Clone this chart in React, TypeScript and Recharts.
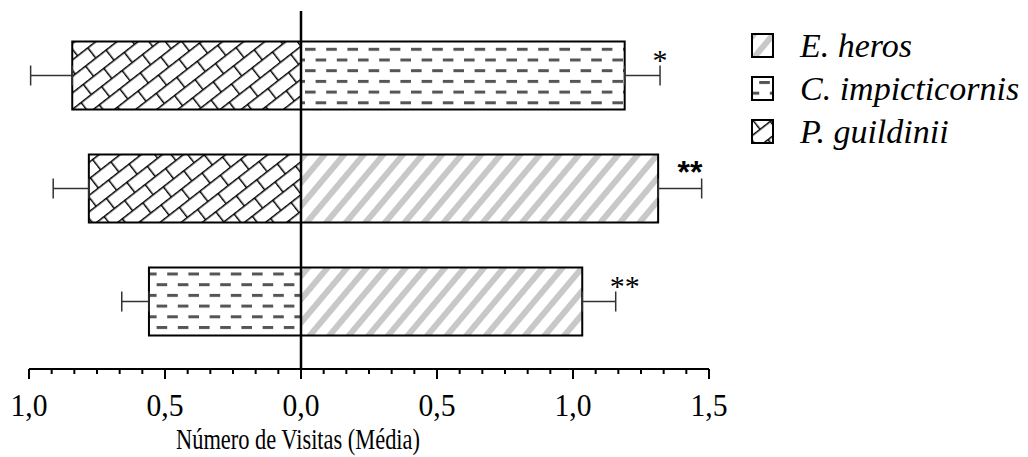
import React from 'react'
import { Bar, BarChart, Cell, ErrorBar, Label, Legend, ReferenceDot, ReferenceLine, XAxis, YAxis } from 'recharts'

// three rows, top to bottom; left side plotted as negative values
const rows = ['top', 'middle', 'bottom']
const leftSpecies = ['P. guildinii', 'P. guildinii', 'C. impicticornis']
const leftValues = [-0.841, -0.78, -0.559]
const leftErrors = [0.153, 0.131, 0.1]
const rightSpecies = ['C. impicticornis', 'E. heros', 'E. heros']
const rightValues = [1.19, 1.313, 1.034]
const rightErrors = [0.13, 0.16, 0.123]
const marks = ['*', '**', '**']
const markX = [1.32, 1.43, 1.19]
const legendSpecies = ['E. heros', 'C. impicticornis', 'P. guildinii']
const majorTicks = [-1, -0.5, 0, 0.5, 1, 1.5]
const minorPerMajor = 6

const patternKey: Record<string, string> = {
  'E. heros': 'heros',
  'C. impicticornis': 'impicti',
  'P. guildinii': 'guild',
}

const ticks: number[] = []
majorTicks.forEach((t, i) => {
  if (i === 0) {
    ticks.push(t)
    return
  }
  const prev = majorTicks[i - 1]
  for (let k = 1; k <= minorPerMajor; k++) ticks.push(prev + ((t - prev) * k) / minorPerMajor)
})

const data = rows.map((row, i) => ({
  row,
  left: leftValues[i],
  leftErr: [leftErrors[i], 0],
  right: rightValues[i],
  rightErr: [0, rightErrors[i]],
}))

const serif = '"Liberation Serif", "Times New Roman", serif'

const isMajor = (v: number) => majorTicks.some((m) => Math.abs(m - v) < 1e-6)

const AxisTick = (props: any) => {
  const { x, y, payload } = props
  const major = isMajor(payload.value)
  return (
    <g>
      <line x1={x} x2={x} y1={y} y2={y + (major ? 10 : 5)} stroke="#000" strokeWidth={2} />
      {major && (
        <text
          x={x}
          y={y + 47}
          textAnchor="middle"
          fontFamily={serif}
          fontSize={31}
          textLength={37}
          lengthAdjust="spacingAndGlyphs"
          fill="#000"
        >
          {Math.abs(payload.value).toFixed(1).replace('.', ',')}
        </text>
      )}
    </g>
  )
}

const LegendContent = () => (
  <div style={{ fontFamily: serif, fontStyle: 'italic', fontSize: 34, color: '#000' }}>
    {legendSpecies.map((s) => (
      <div key={s} style={{ display: 'flex', alignItems: 'center', height: 43 }}>
        <svg width={24} height={26} style={{ display: 'block' }}>
          <rect x={1} y={1} width={21} height={23} fill={`url(#pat-${patternKey[s]})`} stroke="#000" strokeWidth={2} />
        </svg>
        <span style={{ marginLeft: 25, whiteSpace: 'nowrap', lineHeight: '43px' }}>{s}</span>
      </div>
    ))}
  </div>
)

const markLabel = (i: number) => (props: any) => {
  const { viewBox } = props
  const bold = i === 1
  return (
    <text
      x={viewBox.x}
      y={viewBox.y - 5}
      textAnchor="middle"
      fontFamily={bold ? '"Liberation Sans", Arial, sans-serif' : serif}
      fontWeight={bold ? 'bold' : 'normal'}
      fontSize={bold ? 32 : 30}
      fill="#000"
    >
      {marks[i]}
    </text>
  )
}

export default function App() {
  return (
    <div style={{ position: 'absolute', left: 0, top: 0, width: 1028, height: 457, background: '#fff' }}>
      <BarChart
        width={1028}
        height={457}
        data={data}
        layout="vertical"
        barSize={68}
        barGap={-68}
        margin={{ top: 11, right: 319, bottom: 28, left: 29 }}
      >
        <defs>
          <pattern id="pat-heros" patternUnits="userSpaceOnUse" width="15" height="15" patternTransform="rotate(40)">
            <rect width="15" height="15" fill="#fff" />
            <rect x="0" y="0" width="6" height="15" fill="#c8c8c8" />
          </pattern>
          <pattern id="pat-impicti" patternUnits="userSpaceOnUse" x="305" y="47.8" width="21.2" height="21.4">
            <rect width="21.2" height="21.4" fill="#fff" />
            <rect x="0" y="0" width="10.6" height="3" fill="#555" />
            <rect x="10.6" y="10.7" width="10.6" height="3" fill="#555" />
          </pattern>
          <pattern id="pat-guild" patternUnits="userSpaceOnUse" width="26" height="26" patternTransform="rotate(-38)">
            <rect width="26" height="26" fill="#fff" />
            <path d="M0 0.7H26M0 13.7H26M0.7 0V13.7M13.7 13.7V26" stroke="#000" strokeWidth={1.5} fill="none" />
          </pattern>
        </defs>
        <XAxis
          type="number"
          domain={[-1, 1.5]}
          ticks={ticks}
          interval={0}
          height={60}
          tickSize={0}
          tickMargin={0}
          tickLine={false}
          axisLine={{ stroke: '#000', strokeWidth: 2 }}
          tick={<AxisTick />}
        >
          <Label
            content={(p: any) => (
              <text
                x={p.viewBox.x + 269}
                y={p.viewBox.y + 80}
                textAnchor="middle"
                fontFamily={serif}
                fontSize={29}
                textLength={244}
                lengthAdjust="spacingAndGlyphs"
                fill="#000"
              >
                Número de Visitas (Média)
              </text>
            )}
          />
        </XAxis>
        <YAxis type="category" dataKey="row" hide padding={{ top: 7.5, bottom: 11.5 }} />
        <Bar dataKey="left" stroke="#000" strokeWidth={2} isAnimationActive={false}>
          {leftSpecies.map((s, i) => (
            <Cell key={i} fill={`url(#pat-${patternKey[s]})`} />
          ))}
          <ErrorBar dataKey="leftErr" direction="x" width={10} stroke="#333" strokeWidth={1.5} />
        </Bar>
        <Bar dataKey="right" stroke="#000" strokeWidth={2} isAnimationActive={false}>
          {rightSpecies.map((s, i) => (
            <Cell key={i} fill={`url(#pat-${patternKey[s]})`} />
          ))}
          <ErrorBar dataKey="rightErr" direction="x" width={10} stroke="#333" strokeWidth={1.5} />
        </Bar>
        <ReferenceLine x={0} stroke="#000" strokeWidth={2.5} />
        {rows.map((row, i) => (
          <ReferenceDot key={row} x={markX[i]} y={row} r={0} fill="none" stroke="none" label={markLabel(i)} />
        ))}
        <Legend
          layout="vertical"
          align="center"
          verticalAlign="middle"
          wrapperStyle={{ left: 751, top: 24, width: 277 }}
          content={<LegendContent />}
        />
      </BarChart>
    </div>
  )
}
